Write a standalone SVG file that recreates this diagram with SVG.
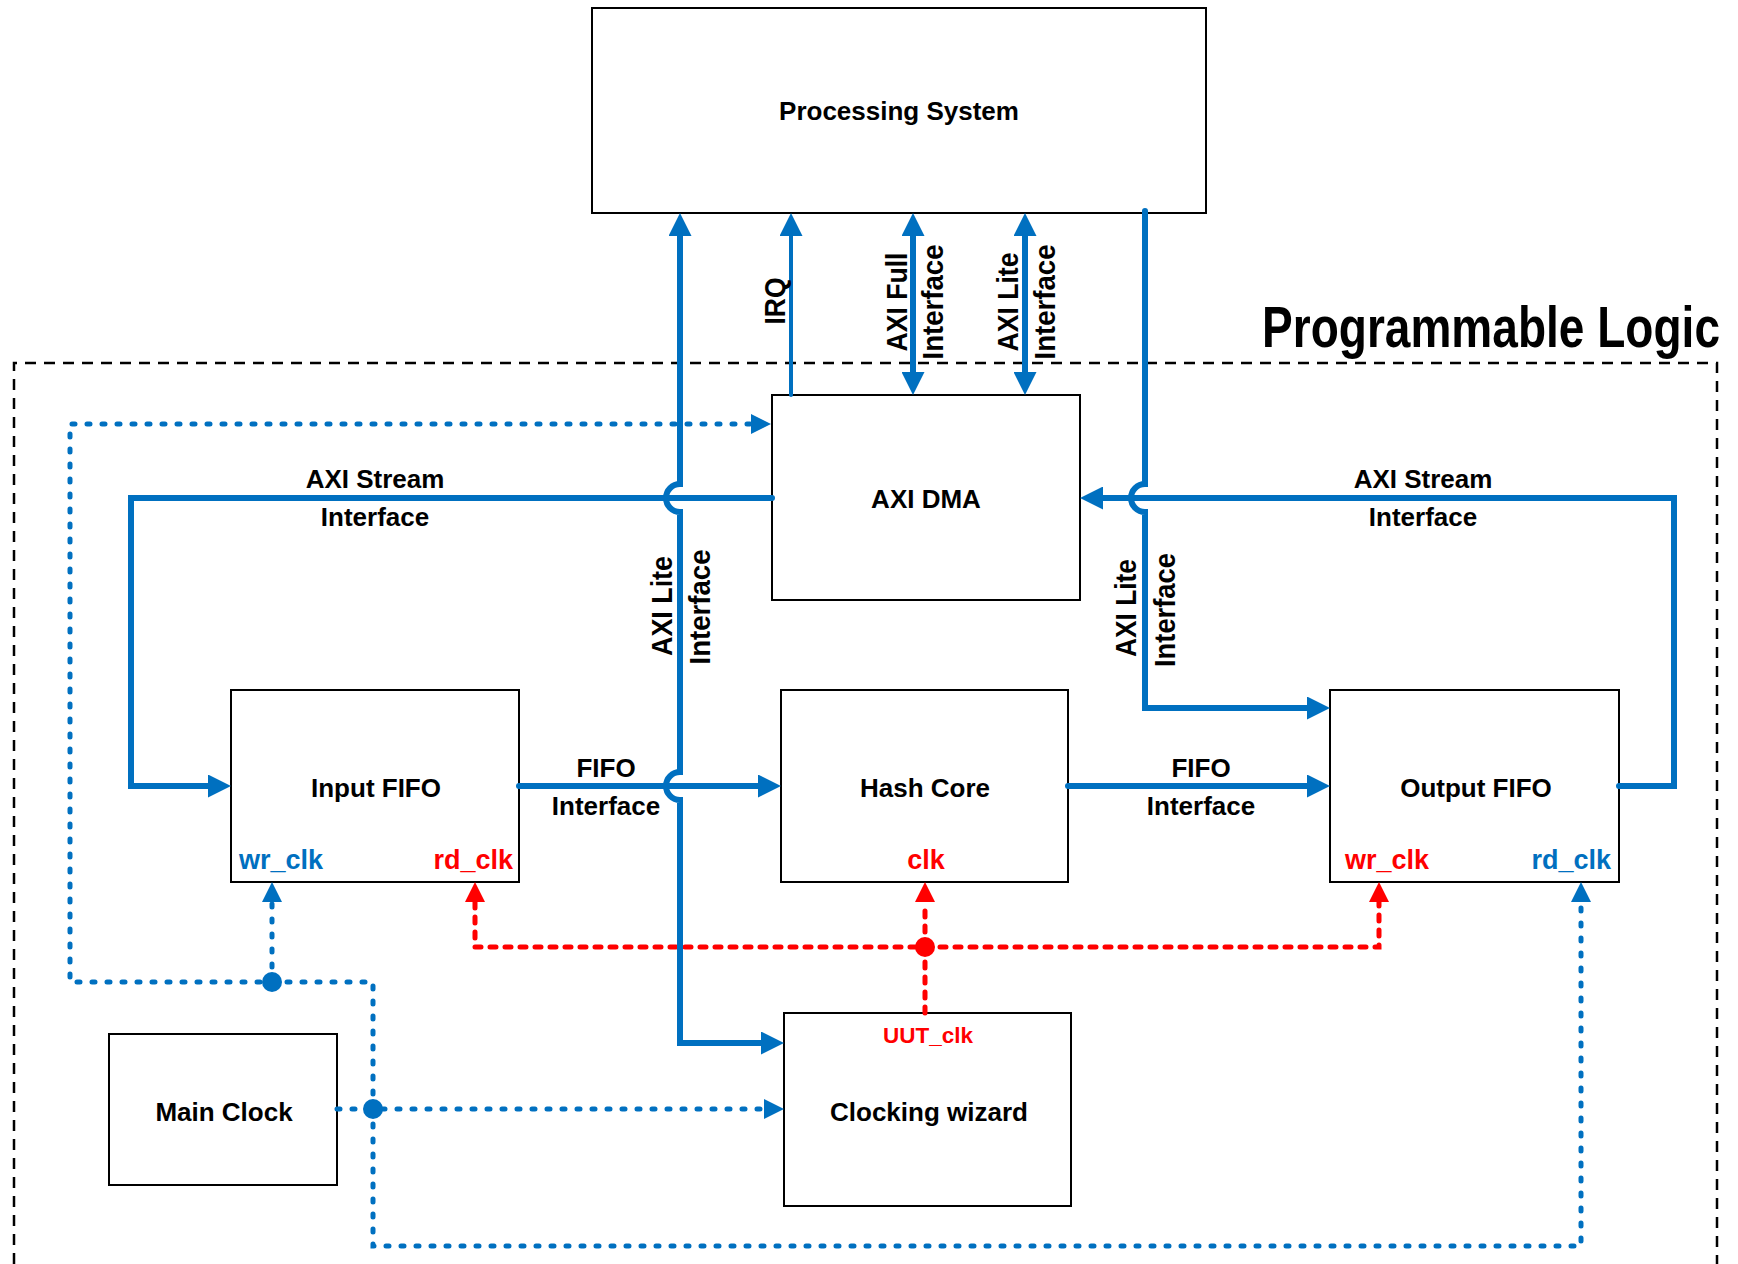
<svg xmlns="http://www.w3.org/2000/svg" width="1738" height="1264" viewBox="0 0 1738 1264">
<style>
.box{fill:#fff;stroke:#000;stroke-width:2}
.t{font-family:"Liberation Sans",Arial,sans-serif;font-weight:bold;font-size:26px;fill:#000;text-anchor:middle}
.v{font-family:"Liberation Sans",Arial,sans-serif;font-weight:bold;font-size:29px;fill:#000;text-anchor:middle}
.p{font-family:"Liberation Sans",Arial,sans-serif;font-weight:bold;font-size:27px}
.pb{fill:#0070C0}
.pr{fill:#FF0000}
.sol{fill:none;stroke:#0070C0;stroke-width:6;stroke-linecap:round;stroke-linejoin:miter}
.thin{stroke-width:4}
.bd{fill:none;stroke:#0070C0;stroke-width:5;stroke-linecap:round;stroke-dasharray:3 12}
.rd{fill:none;stroke:#FF0000;stroke-width:5;stroke-linecap:round;stroke-dasharray:6 9}
.border{fill:none;stroke:#000;stroke-width:2.5;stroke-dasharray:11 8}
</style>
<defs>
<marker id="aS" viewBox="0 0 23 23" refX="0" refY="11.5" markerWidth="23" markerHeight="23" markerUnits="userSpaceOnUse" orient="auto-start-reverse"><path d="M0,0 L23,11.5 L0,23 Z" fill="#0070C0"/></marker>
<marker id="aB" viewBox="0 0 20 20" refX="0" refY="10" markerWidth="20" markerHeight="20" markerUnits="userSpaceOnUse" orient="auto-start-reverse"><path d="M0,0 L20,10 L0,20 Z" fill="#0070C0"/></marker>
<marker id="aR" viewBox="0 0 20 20" refX="0" refY="10" markerWidth="20" markerHeight="20" markerUnits="userSpaceOnUse" orient="auto-start-reverse"><path d="M0,0 L20,10 L0,20 Z" fill="#FF0000"/></marker>
</defs>
<rect width="1738" height="1264" fill="#fff"/>

<g id="programmable-logic">
<path class="border" d="M14,1264 V363 H1717 V1264"/>
<text transform="translate(1262,347) scale(0.794,1)" font-family="'Liberation Sans',Arial,sans-serif" font-weight="bold" font-size="58">Programmable Logic</text>
</g>

<g id="processing-system"><rect class="box" x="592" y="8" width="614" height="205"/><text class="t" x="899" y="120">Processing System</text></g>
<g id="axi-dma"><rect class="box" x="772" y="395" width="308" height="205"/><text class="t" x="926" y="508">AXI DMA</text></g>
<g id="input-fifo"><rect class="box" x="231" y="690" width="288" height="192"/><text class="t" x="376" y="797">Input FIFO</text>
<text class="p pb" x="239" y="869">wr_clk</text><text class="p pr" x="513" y="869" text-anchor="end">rd_clk</text></g>
<g id="hash-core"><rect class="box" x="781" y="690" width="287" height="192"/><text class="t" x="925" y="797">Hash Core</text>
<text class="p pr" x="926" y="869" text-anchor="middle">clk</text></g>
<g id="output-fifo"><rect class="box" x="1330" y="690" width="289" height="192"/><text class="t" x="1476" y="797">Output FIFO</text>
<text class="p pr" x="1345" y="869">wr_clk</text><text class="p pb" x="1611" y="869" text-anchor="end">rd_clk</text></g>
<g id="main-clock"><rect class="box" x="109" y="1034" width="228" height="151"/><text class="t" x="224" y="1121">Main Clock</text></g>
<g id="clocking-wizard"><rect class="box" x="784" y="1013" width="287" height="193"/><text class="t" x="929" y="1121">Clocking wizard</text>
<text x="928" y="1043" font-family="'Liberation Sans',Arial,sans-serif" font-weight="bold" font-size="22.5" fill="#FF0000" text-anchor="middle">UUT_clk</text></g>

<g id="connectors">
<path class="rd" d="M925,1013 V947" />
<path class="rd" d="M925,947 V902" marker-end="url(#aR)"/>
<path class="rd" d="M475,902 V947 H1379 V902" marker-start="url(#aR)" marker-end="url(#aR)"/>
<path class="bd" d="M373,1109 V982 H70 V424 H751" marker-end="url(#aB)"/>
<path class="bd" d="M337,1109 H764" marker-end="url(#aB)"/>
<path class="bd" d="M373,1109 V1246 H1581 V902" marker-end="url(#aB)"/>
<path class="bd" d="M272,982 V902" marker-end="url(#aB)"/>
<circle cx="373" cy="1109" r="10" fill="#0070C0"/>
<circle cx="272" cy="982" r="10" fill="#0070C0"/>
<circle cx="925" cy="947" r="10" fill="#FF0000"/>
<path class="sol" d="M772,498 H131 V786 H208" marker-end="url(#aS)"/>
<path class="sol" d="M1619,786 H1674 V498 H1103" marker-end="url(#aS)"/>
<path class="sol" d="M519,786 H758" marker-end="url(#aS)"/>
<path class="sol" d="M1068,786 H1307" marker-end="url(#aS)"/>
<path class="sol" d="M680,236 V484 A14,14 0 0,0 680,512 V772 A14,14 0 0,0 680,800 V1043 H761" marker-start="url(#aS)" marker-end="url(#aS)"/>
<path class="sol thin" d="M791,395 V236" marker-end="url(#aS)"/>
<path class="sol" d="M913,236 V372" marker-start="url(#aS)" marker-end="url(#aS)"/>
<path class="sol" d="M1025,236 V372" marker-start="url(#aS)" marker-end="url(#aS)"/>
<path class="sol" d="M1145,211 V484 A14,14 0 0,0 1145,512 V708 H1307" marker-end="url(#aS)"/>
<text class="v" transform="translate(785,301) rotate(-90)" textLength="47" lengthAdjust="spacingAndGlyphs">IRQ</text>
<text class="v" transform="translate(907,302) rotate(-90)" textLength="99" lengthAdjust="spacingAndGlyphs">AXI Full</text>
<text class="v" transform="translate(943,302) rotate(-90)" textLength="115" lengthAdjust="spacingAndGlyphs">Interface</text>
<text class="v" transform="translate(1018,302) rotate(-90)" textLength="99" lengthAdjust="spacingAndGlyphs">AXI Lite</text>
<text class="v" transform="translate(1055,302) rotate(-90)" textLength="115" lengthAdjust="spacingAndGlyphs">Interface</text>
<text class="v" transform="translate(672,606) rotate(-90)" textLength="100" lengthAdjust="spacingAndGlyphs">AXI Lite</text>
<text class="v" transform="translate(710,607) rotate(-90)" textLength="115" lengthAdjust="spacingAndGlyphs">Interface</text>
<text class="v" transform="translate(1136,608) rotate(-90)" textLength="98" lengthAdjust="spacingAndGlyphs">AXI Lite</text>
<text class="v" transform="translate(1175,610) rotate(-90)" textLength="114" lengthAdjust="spacingAndGlyphs">Interface</text>
<text class="t" x="375" y="488">AXI Stream</text>
<text class="t" x="375" y="526">Interface</text>
<text class="t" x="1423" y="488">AXI Stream</text>
<text class="t" x="1423" y="526">Interface</text>
<text class="t" x="606" y="777">FIFO</text>
<text class="t" x="606" y="815">Interface</text>
<text class="t" x="1201" y="777">FIFO</text>
<text class="t" x="1201" y="815">Interface</text>
</g>
</svg>
